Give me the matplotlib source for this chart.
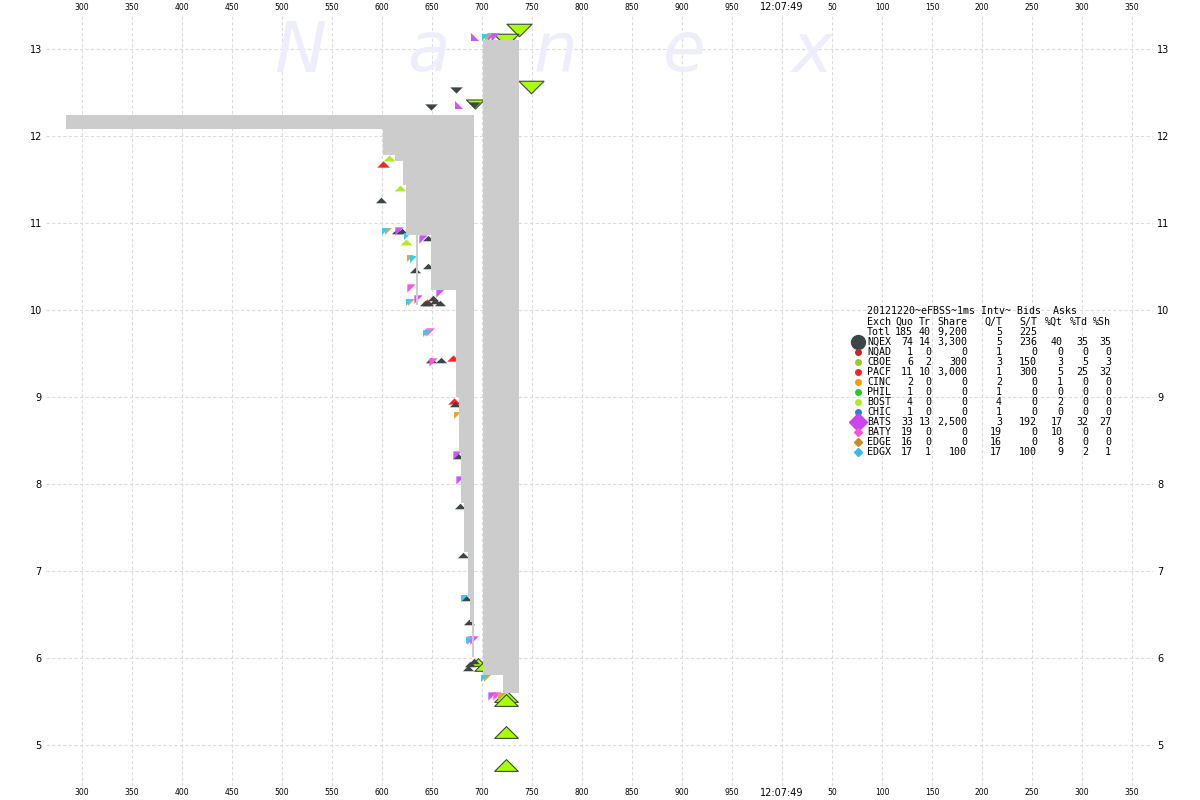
import matplotlib.pyplot as plt
from matplotlib.path import Path

# time axis: milliseconds after 12:07:48 (1000 = 12:07:49)
# NBBO spread blocks (step edges, bid under each step, ask)
left_t = [284, 601, 613, 621, 624, 634, 636, 649, 674, 677, 679, 682, 686, 688, 690, 692]
left_bid = [12.08, 11.78, 11.71, 11.44, 10.86, 10.06, 10.86, 10.23, 9.00, 8.37,
            7.78, 7.22, 6.70, 6.41, 6.01, 6.01]
left_ask = 12.24
right_t = [701, 721, 737]
right_bid = [5.80, 5.60, 5.60]
right_ask = 13.10

# big outlined lime quotes
lime_ask_t = [737, 749, 724]
lime_ask_px = [13.22, 12.56, 13.10]
lime_ask2_t = [693]
lime_ask2_px = [12.37]
lime_bid_t = [724, 724, 724, 724]
lime_bid_px = [5.56, 5.52, 5.15, 4.77]
lime_bid2_t = [696, 700]
lime_bid2_px = [5.95, 5.90]

# BOST / PACF / NQEX quotes
bost_t = [607, 618, 624]
bost_px = [11.75, 11.40, 10.78]
pacf_t = [601, 671, 672, 645]
pacf_px = [11.68, 9.45, 8.95, 10.09]
nqex_bid_t = [599, 615, 620, 646, 633, 646, 643, 646, 653, 658, 651, 649, 659,
              673, 676, 678, 681, 684, 687, 688, 692, 686]
nqex_bid_px = [11.26, 10.91, 10.91, 10.83, 10.46, 10.51, 10.08, 10.08, 10.10, 10.08,
               10.14, 9.43, 9.43, 8.92, 8.32, 7.75, 7.18, 6.69, 6.41, 5.93, 5.97, 5.89]
nqex_ask_t = [674, 649, 692]
nqex_ask_px = [12.53, 12.33, 12.35]

# small half-triangle quotes
bats_t = [641, 636, 658, 675, 678, 617, 710, 692, 709, 713]
bats_px = [10.81, 10.13, 10.20, 8.33, 8.05, 10.91, 5.56, 6.21, 13.14, 13.14]
bats_up_t = [693, 677]
bats_up_px = [13.14, 12.35]
baty_t = [629, 648, 651, 715, 689]
baty_px = [10.25, 9.75, 9.40, 5.56, 6.21]
edge_t = [606, 628, 629, 646, 675, 705, 719, 706]
edge_px = [10.91, 10.60, 10.09, 9.75, 8.79, 5.77, 5.56, 13.14]
edgx_t = [603, 625, 631, 644, 627, 702, 687, 682, 703]
edgx_px = [10.91, 10.85, 10.59, 9.74, 10.09, 5.77, 6.21, 6.69, 13.14]

# stats table
exchanges = ["NQEX", "NQAD", "CBOE", "PACF", "CINC", "PHIL", "BOST", "CHIC",
             "BATS", "BATY", "EDGE", "EDGX"]
ex_colors = ["#3d4646", "#cc2222", "#99cc22", "#ff2020", "#f0a000", "#22cc22",
             "#aaee22", "#2288cc", "#cc44ee", "#ff55cc", "#cc8822", "#33bbee"]
quo = ["74", "1", "6", "11", "2", "1", "4", "1", "33", "19", "16", "17"]
tr = ["14", "0", "2", "10", "0", "0", "0", "0", "13", "0", "0", "1"]
share = ["3,300", "0", "300", "3,000", "0", "0", "0", "0", "2,500", "0", "0", "100"]
qt = ["5", "1", "3", "1", "2", "1", "4", "1", "3", "19", "16", "17"]
st = ["236", "0", "150", "300", "0", "0", "0", "0", "192", "0", "0", "100"]
pqt = ["40", "0", "3", "5", "1", "0", "2", "0", "17", "10", "8", "9"]
ptd = ["35", "0", "5", "25", "0", "0", "0", "0", "32", "0", "0", "2"]
psh = ["35", "0", "3", "32", "0", "0", "0", "0", "27", "0", "0", "1"]

xticks = list(range(300, 1351, 50))
yticks = list(range(5, 14))


def tri(verts):
    return Path(verts + [verts[0]], closed=True)


UP = tri([(-1, -0.5), (1, -0.5), (0, 0.5)])
DOWN = tri([(-1, 0.5), (1, 0.5), (0, -0.5)])
TL = tri([(-1, 1), (1, 1), (-1, -1)])
BL = tri([(-1, 1), (-1, -1), (1, -1)])

fig = plt.figure(figsize=(12, 8), dpi=100)
ax = fig.add_axes([46 / 1200, 1 - 786 / 800, 1107 / 1200, 772 / 800])
ax.set_xlim(264, 1371)
ax.set_ylim(4.53, 13.40)
for s in ax.spines.values():
    s.set_visible(False)

# watermark
for i, ch in enumerate("Nanex"):
    fig.text((300 + 128 * i) / 1200, 1 - 52 / 800, ch, fontsize=50, style='italic',
             color='#eeeefb', ha='center', va='center', zorder=0)

ax.grid(True, color='#dcdcdc', linestyle=(0, (3, 2)), linewidth=0.8, zorder=1)
ax.set_xticks(xticks)
ax.set_xticklabels(["12:07:49" if t == 1000 else str(t % 1000) for t in xticks])
ax.set_yticks(yticks)
ax.tick_params(axis='x', length=0, labelsize=5.5, pad=1.5, top=True, labeltop=True)
ax.tick_params(axis='y', length=0, labelsize=7, pad=3, right=True, labelright=True)
for tk in ax.xaxis.get_major_ticks():
    if tk.label1.get_text() == "12:07:49":
        tk.label1.set_fontsize(7)
        tk.label2.set_fontsize(7)

kw = dict(linestyle='none', zorder=3)
ax.plot(lime_ask_t, lime_ask_px, marker=DOWN, ms=18, color='#aaff00', mec='#3d4646', mew=0.8, **kw)
ax.plot(lime_ask2_t, lime_ask2_px, marker=DOWN, ms=13, color='#aaff00', mec='#3d4646', mew=0.8, **kw)
ax.plot(lime_bid_t, lime_bid_px, marker=UP, ms=17, color='#aaff00', mec='#3d4646', mew=0.8, **kw)
ax.plot(lime_bid2_t, lime_bid2_px, marker=UP, ms=11, color='#aaff00', mec='#3d4646', mew=0.8, **kw)
ax.plot(bost_t, bost_px, marker=UP, ms=8.5, color='#aaee22', mew=0, **kw)
ax.plot(pacf_t, pacf_px, marker=UP, ms=9, color='#ff2020', mew=0, **kw)
ax.plot(nqex_bid_t, nqex_bid_px, marker=UP, ms=8, color='#3d4646', mew=0, **kw)
ax.plot(nqex_ask_t, nqex_ask_px, marker=DOWN, ms=9, color='#3d4646', mew=0, **kw)
ax.plot(bats_t, bats_px, marker=TL, ms=6, color='#cc55ff', mew=0, **kw)
ax.plot(bats_up_t, bats_up_px, marker=BL, ms=6, color='#cc55ff', mew=0, **kw)
ax.plot(baty_t, baty_px, marker=TL, ms=6, color='#ff55dd', mew=0, **kw)
ax.plot(edge_t, edge_px, marker=TL, ms=5, color='#ddaa33', mew=0, **kw)
ax.plot(edgx_t, edgx_px, marker=TL, ms=5, color='#33ccff', mew=0, **kw)

# spread shading on top of quotes
ax.fill_between(left_t, left_bid, left_ask, step='post', color='#cccccc', lw=0, zorder=4)
ax.fill_between(right_t, right_bid, right_ask, step='post', color='#cccccc', lw=0, zorder=4)

# table
font = dict(family='DejaVu Sans Mono', fontsize=7.2, va='center', color='black')
fig.text(867 / 1200, 1 - 311 / 800, "20121220~eFBSS~1ms Intv~ Bids  Asks", ha='left', **font)
col_x = [913, 931, 967, 1002, 1037, 1063, 1088, 1111]
header = ["Quo", "Tr", "Share", "Q/T", "S/T", "%Qt", "%Td", "%Sh"]
fig.text(867 / 1200, 1 - 322 / 800, "Exch", ha='left', **font)
for x, h in zip(col_x, header):
    fig.text(x / 1200, 1 - 322 / 800, h, ha='right', **font)
fig.text(867 / 1200, 1 - 332 / 800, "Totl", ha='left', **font)
for x, v in zip(col_x, ["185", "40", "9,200", "5", "225"]):
    fig.text(x / 1200, 1 - 332 / 800, v, ha='right', **font)
for i, ex in enumerate(exchanges):
    y = 1 - (342 + 10 * i) / 800
    fig.text(867 / 1200, y, ex, ha='left', **font)
    for x, v in zip(col_x, [quo[i], tr[i], share[i], qt[i], st[i], pqt[i], ptd[i], psh[i]]):
        fig.text(x / 1200, y, v, ha='right', **font)
    if ex == "NQEX":
        m, size = 'o', 10
    elif ex == "BATS":
        m, size = 'D', 9
    elif ex in ("BATY", "EDGE", "EDGX"):
        m, size = 'D', 4
    else:
        m, size = 'o', 4
    fig.add_artist(plt.Line2D([858 / 1200], [y], marker=m, ms=size, color=ex_colors[i],
                              linestyle='none', transform=fig.transFigure))

fig.savefig("out.png", dpi=100, facecolor='white')
